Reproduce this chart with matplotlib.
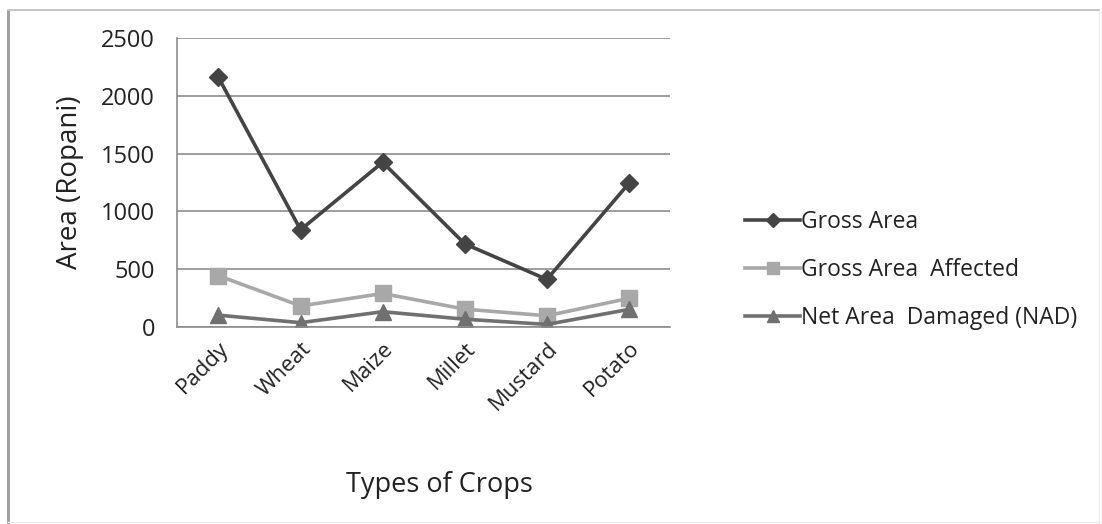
import matplotlib.pyplot as plt
from matplotlib.lines import Line2D

# crop areas in ropani
crops = ['Paddy', 'Wheat', 'Maize', 'Millet', 'Mustard', 'Potato']
gross_area = [2160, 840, 1425, 718, 410, 1243]
gross_affected = [442, 180, 288, 152, 95, 246]
net_damaged = [100, 35, 130, 65, 20, 150]

plt.rcParams['font.family'] = ['Open Sans', 'DejaVu Sans']

fig = plt.figure(figsize=(11.02, 5.24), dpi=100)
ax = fig.add_axes([0.161, 0.3765, 0.447, 0.5505])

x = range(len(crops))
ax.plot(x, gross_area, color='#444444', lw=2.6, marker='D', ms=9, label='Gross Area')
ax.plot(x, gross_affected, color='#a8a8a8', lw=2.6, marker='s', ms=11, label='Gross Area  Affected')
ax.plot(x, net_damaged, color='#707070', lw=2.6, marker='^', ms=11, label='Net Area  Damaged (NAD)')

ax.set_xlim(-0.5, len(crops) - 0.5)
ax.set_ylim(0, 2500)
ax.set_yticks(range(0, 2501, 500))
ax.yaxis.grid(True, color='#8c8c8c', lw=1.2)
ax.set_axisbelow(True)
ax.tick_params(axis='y', length=0, pad=16, labelsize=17, labelcolor='#222222')
ax.tick_params(axis='x', length=0, pad=8, labelsize=16, labelcolor='#222222')
ax.set_xticks(list(x))
ax.set_xticklabels(crops, rotation=45, ha='right', rotation_mode='anchor')

for side in ['top', 'right']:
    ax.spines[side].set_visible(False)
for side in ['left', 'bottom']:
    ax.spines[side].set_color('#8c8c8c')
    ax.spines[side].set_linewidth(1.2)

ax.set_ylabel('Area (Ropani)', fontsize=20, color='#222222', labelpad=12)
fig.text(0.399, 0.062, 'Types of Crops', fontsize=19.5, color='#222222', ha='center')

ax.legend(loc='center left', bbox_to_anchor=(1.111, 0.197), frameon=False, fontsize=16.5,
          handlelength=2.4, handletextpad=0.05, labelspacing=1.05, labelcolor='#222222',
          markerscale=0.8)

# outer frame of the chart area
frame = dict(transform=fig.transFigure, solid_capstyle='butt')
fig.lines.append(Line2D([0.007, 0.007], [0.0, 0.981], color='#a0a0a0', lw=2.2, **frame))
fig.lines.append(Line2D([0.006, 0.998], [0.981, 0.981], color='#c0c0c0', lw=1.3, **frame))
fig.lines.append(Line2D([0.997, 0.997], [0.0, 0.981], color='#ececec', lw=1.0, **frame))
fig.lines.append(Line2D([0.006, 0.998], [0.004, 0.004], color='#ececec', lw=1.0, **frame))

fig.savefig('out.png', dpi=100)
